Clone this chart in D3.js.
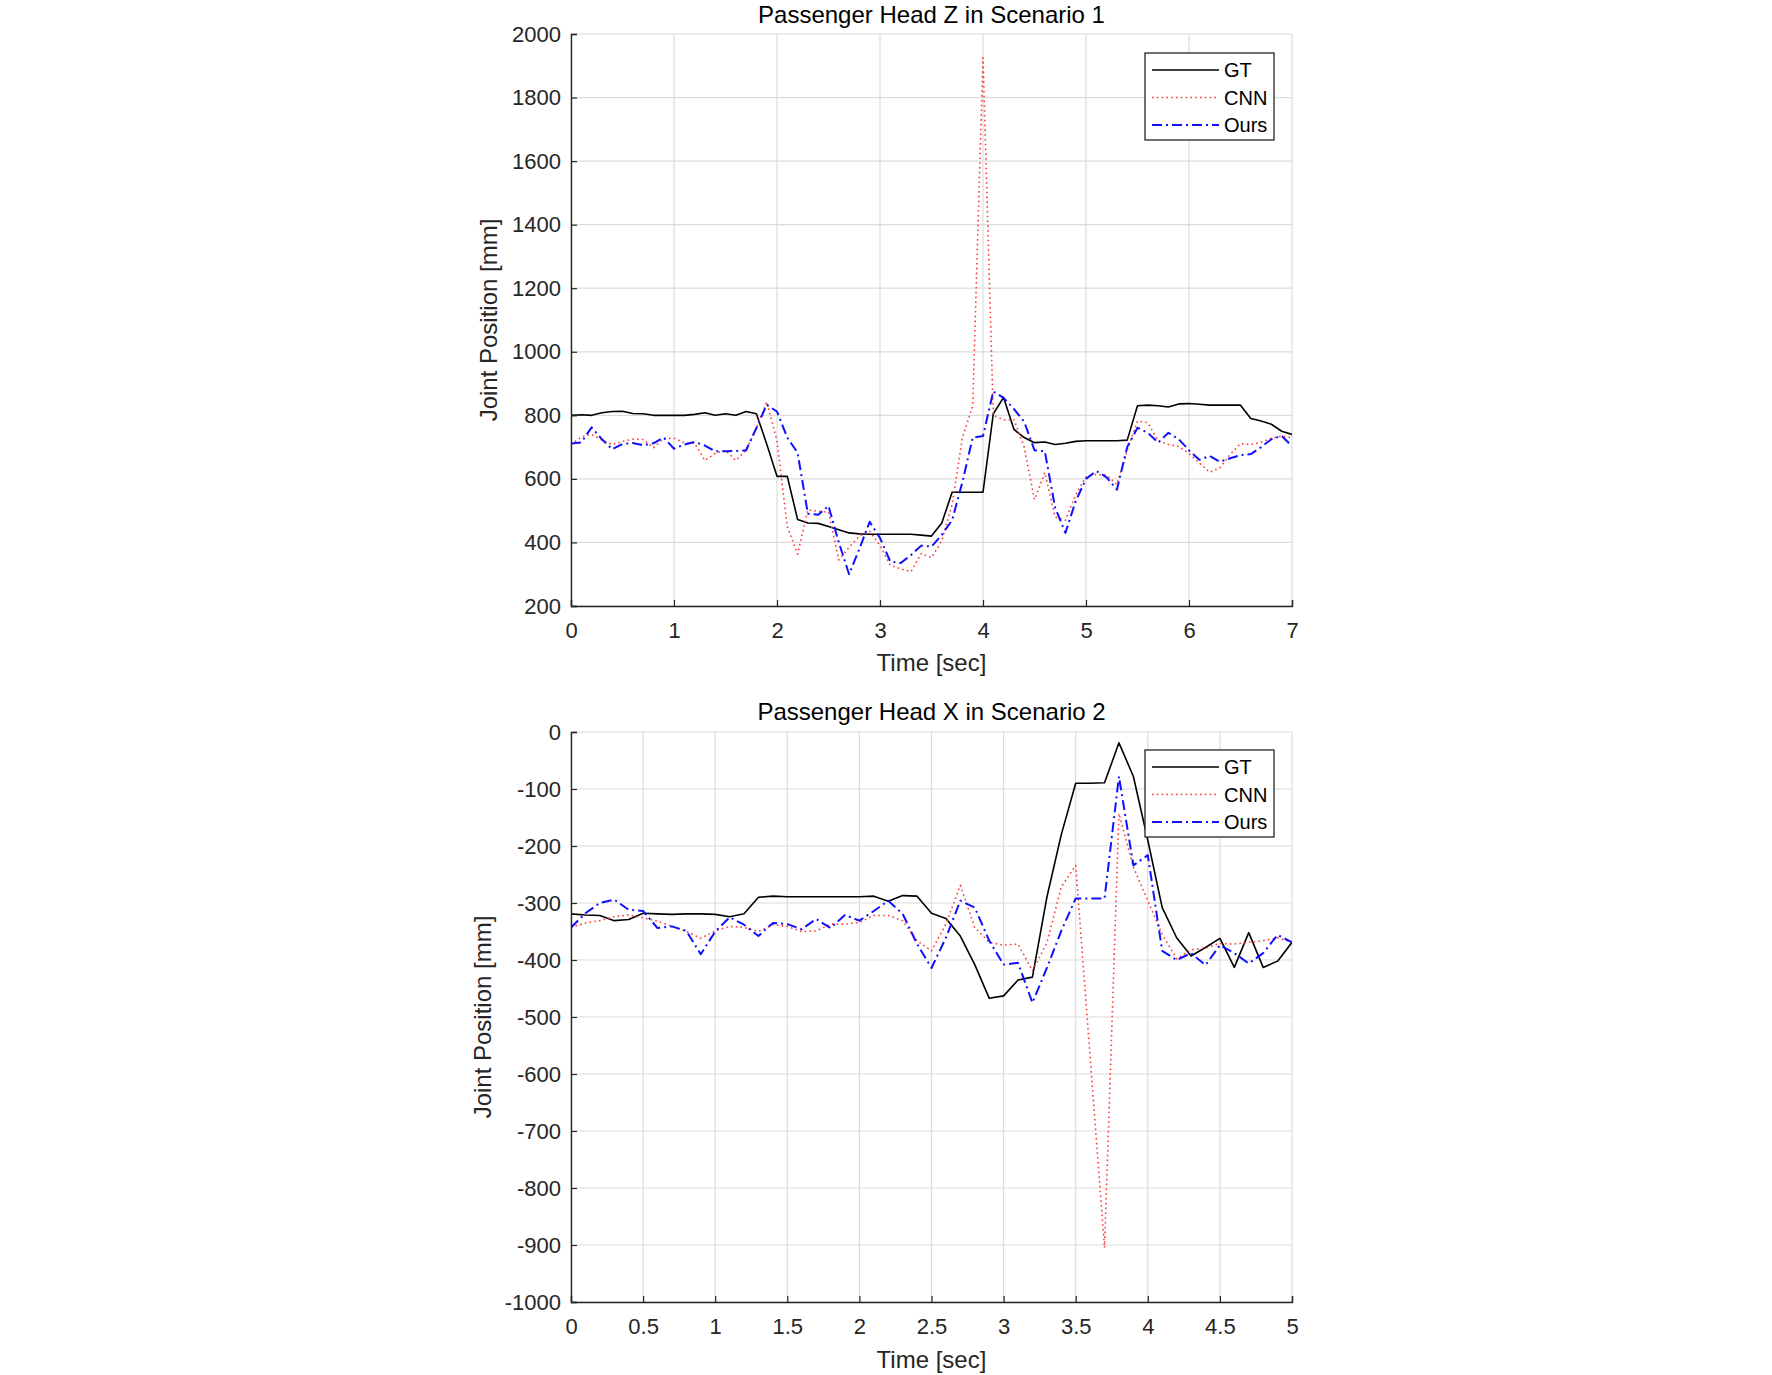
<!DOCTYPE html>
<html>
<head>
<meta charset="utf-8">
<script src="https://cdn.jsdelivr.net/npm/d3@7"></script>
<style>
  body { margin: 0; background: #fff; }
  text { font-family: "Liberation Sans", Arial, sans-serif; }
</style>
</head>
<body>
<svg id="chart" width="1772" height="1375"></svg>
<script>
const t1 = d3.range(0, 71).map(i => i / 10);
const gt1 = [800,802,800,808,812,813,806,805,800,800, 800,800,803,808,800,805,800,812,805,710,
  608,608,472,461,460,450,440,430,427,426, 426,426,426,426,423,420,461,558,558,558,
  558,805,856,756,730,714,716,708,712,718, 720,720,720,720,722,830,832,830,826,836,
  837,835,832,832,832,832,790,782,772,750, 740];
const cnn1 = [708,732,740,722,708,718,725,724,698,727, 728,714,712,658,680,690,658,690,760,843,
  720,450,363,503,498,495,345,385,420,435, 390,328,317,308,365,352,405,519,729,830,
  1925,800,786,787,700,535,620,480,470,550, 606,614,612,582,690,782,777,720,708,702,
  680,650,621,635,677,711,708,715,728,735, 729];
const ours1 = [711,715,762,725,693,710,713,706,712,730, 695,708,716,705,687,687,688,690,760,833,
  812,730,682,490,487,515,400,300,380,465, 414,340,335,360,390,387,424,470,590,730,
  735,875,855,820,780,690,687,510,430,530, 600,625,605,566,700,761,745,714,745,725,
  690,660,672,654,665,675,678,700,725,735, 703];

const t2 = d3.range(0, 51).map(i => i / 10);
const gt2 = [-319,-321,-322,-331,-329,-318,-319,-320,-319,-319, -320,-324,-319,-290,-288,-289,-289,-289,-289,-289,
  -289,-288,-297,-287,-288,-318,-327,-358,-408,-467, -463,-435,-430,-290,-180,-90,-90,-89,-19,-78,
  -190,-308,-361,-393,-378,-362,-413,-352,-413,-402, -369];
const cnn2 = [-343,-335,-331,-324,-321,-326,-332,-341,-350,-362, -349,-341,-343,-350,-338,-341,-350,-349,-337,-337,
  -334,-322,-322,-331,-366,-384,-337,-269,-343,-369, -374,-372,-419,-370,-272,-234,-570,-905,-143,-237,
  -296,-355,-398,-382,-379,-371,-372,-369,-366,-361, -369];
const ours2 = [-343,-318,-300,-294,-312,-314,-344,-341,-349,-390, -350,-325,-338,-358,-335,-337,-346,-328,-344,-321,
  -331,-314,-296,-319,-372,-414,-361,-296,-308,-366, -408,-405,-475,-414,-349,-292,-292,-292,-78,-234,
  -216,-384,-400,-388,-409,-374,-388,-406,-388,-356, -369];

const xTicks1 = [0,1,2,3,4,5,6,7];
const yTicks1 = [200,400,600,800,1000,1200,1400,1600,1800,2000];
const xTicks2 = [0,0.5,1,1.5,2,2.5,3,3.5,4,4.5,5];
const yTicks2 = [-1000,-900,-800,-700,-600,-500,-400,-300,-200,-100,0];
const seriesNames = ["GT", "CNN", "Ours"];

// ---- styles ----
const styles = {
  GT:   { color: "#000000", width: 1.6, dash: null },
  CNN:  { color: "#ff3b3b", width: 1.6, dash: "1.6,3.2" },
  Ours: { color: "#1010ff", width: 2, dash: "10,4,2,4" }
};

const svg = d3.select("#chart");

function drawPanel(opt) {
  const { left, right, top, bottom } = opt.box;
  const x = d3.scaleLinear().domain(opt.xDomain).range([left, right]);
  const y = d3.scaleLinear().domain(opt.yDomain).range([bottom, top]);
  const g = svg.append("g");

  // grid
  g.selectAll(".gx").data(opt.xTicks).join("line")
    .attr("x1", d => x(d)).attr("x2", d => x(d))
    .attr("y1", top).attr("y2", bottom)
    .attr("stroke", "#dcdcdc").attr("stroke-width", 1.2);
  g.selectAll(".gy").data(opt.yTicks).join("line")
    .attr("x1", left).attr("x2", right)
    .attr("y1", d => y(d)).attr("y2", d => y(d))
    .attr("stroke", "#dcdcdc").attr("stroke-width", 1.2);

  // lines
  const clipId = "clip" + opt.id;
  svg.append("clipPath").attr("id", clipId).append("rect")
    .attr("x", left).attr("y", top).attr("width", right - left).attr("height", bottom - top);
  const lineGen = d3.line().x(d => x(d[0])).y(d => y(d[1]));
  opt.series.forEach(s => {
    const st = styles[s.name];
    g.append("path")
      .datum(opt.t.map((tt, i) => [tt, s.values[i]]))
      .attr("clip-path", `url(#${clipId})`)
      .attr("fill", "none")
      .attr("stroke", st.color)
      .attr("stroke-width", st.width)
      .attr("stroke-dasharray", st.dash)
      .attr("stroke-linejoin", "round")
      .attr("d", lineGen);
  });

  // axes (ticks inside)
  const xAxis = d3.axisBottom(x).tickValues(opt.xTicks).tickSize(-6).tickPadding(14)
    .tickFormat(d => String(d));
  const yAxis = d3.axisLeft(y).tickValues(opt.yTicks).tickSize(-6).tickPadding(16)
    .tickFormat(d => d < 0 ? "-" + Math.abs(d) : String(d));

  const gx = g.append("g").attr("transform", `translate(0,${bottom})`).call(xAxis);
  const gy = g.append("g").attr("transform", `translate(${left},0)`).call(yAxis);
  [gx, gy].forEach(a => {
    a.select(".domain").attr("stroke", "#262626").attr("stroke-width", 1.4);
    a.selectAll(".tick line").attr("stroke", "#262626").attr("stroke-width", 1.2);
    a.selectAll(".tick text").attr("fill", "#262626")
      .style("font-size", "22px").style("font-family", "Liberation Sans, Arial, sans-serif");
  });
  gx.selectAll(".tick text").attr("dy", "0.71em").attr("y", 16);
  gy.selectAll(".tick text").attr("x", -10);

  // title + labels
  g.append("text").attr("x", (left + right) / 2).attr("y", opt.titleY)
    .attr("text-anchor", "middle").style("font-size", "24px").attr("fill", "#000")
    .text(opt.title);
  g.append("text").attr("x", (left + right) / 2).attr("y", opt.xlabelY)
    .attr("text-anchor", "middle").style("font-size", "24px").attr("fill", "#262626")
    .text("Time [sec]");
  g.append("text")
    .attr("transform", `translate(${opt.ylabelX},${(top + bottom) / 2}) rotate(-90)`)
    .attr("text-anchor", "middle").attr("dy", "0.35em")
    .style("font-size", "24px").attr("fill", "#262626")
    .text("Joint Position [mm]");

  // legend
  const lg = g.append("g").attr("transform", `translate(${opt.legend[0]},${opt.legend[1]})`);
  lg.append("rect").attr("width", 129).attr("height", 87)
    .attr("fill", "#fff").attr("stroke", "#262626").attr("stroke-width", 1.3);
  seriesNames.forEach((name, i) => {
    const st = styles[name];
    const yy = 17 + i * 27.5;
    lg.append("line").attr("x1", 7).attr("x2", 74).attr("y1", yy).attr("y2", yy)
      .attr("stroke", st.color).attr("stroke-width", st.width)
      .attr("stroke-dasharray", st.dash);
    lg.append("text").attr("x", 79).attr("y", yy).attr("dy", "0.36em")
      .style("font-size", "20px").attr("fill", "#000").text(name);
  });
}

drawPanel({
  id: 1,
  box: { left: 571, right: 1292, top: 34, bottom: 606 },
  xDomain: [0, 7], yDomain: [200, 2000],
  xTicks: xTicks1, yTicks: yTicks1,
  t: t1,
  series: [{ name: "GT", values: gt1 }, { name: "CNN", values: cnn1 }, { name: "Ours", values: ours1 }],
  title: "Passenger Head Z in Scenario 1",
  titleY: 23, xlabelY: 671, ylabelX: 489,
  legend: [1145, 53]
});

drawPanel({
  id: 2,
  box: { left: 571, right: 1292, top: 732, bottom: 1302 },
  xDomain: [0, 5], yDomain: [-1000, 0],
  xTicks: xTicks2, yTicks: yTicks2,
  t: t2,
  series: [{ name: "GT", values: gt2 }, { name: "CNN", values: cnn2 }, { name: "Ours", values: ours2 }],
  title: "Passenger Head X in Scenario 2",
  titleY: 720, xlabelY: 1368, ylabelX: 483,
  legend: [1145, 750]
});
</script>
</body>
</html>
